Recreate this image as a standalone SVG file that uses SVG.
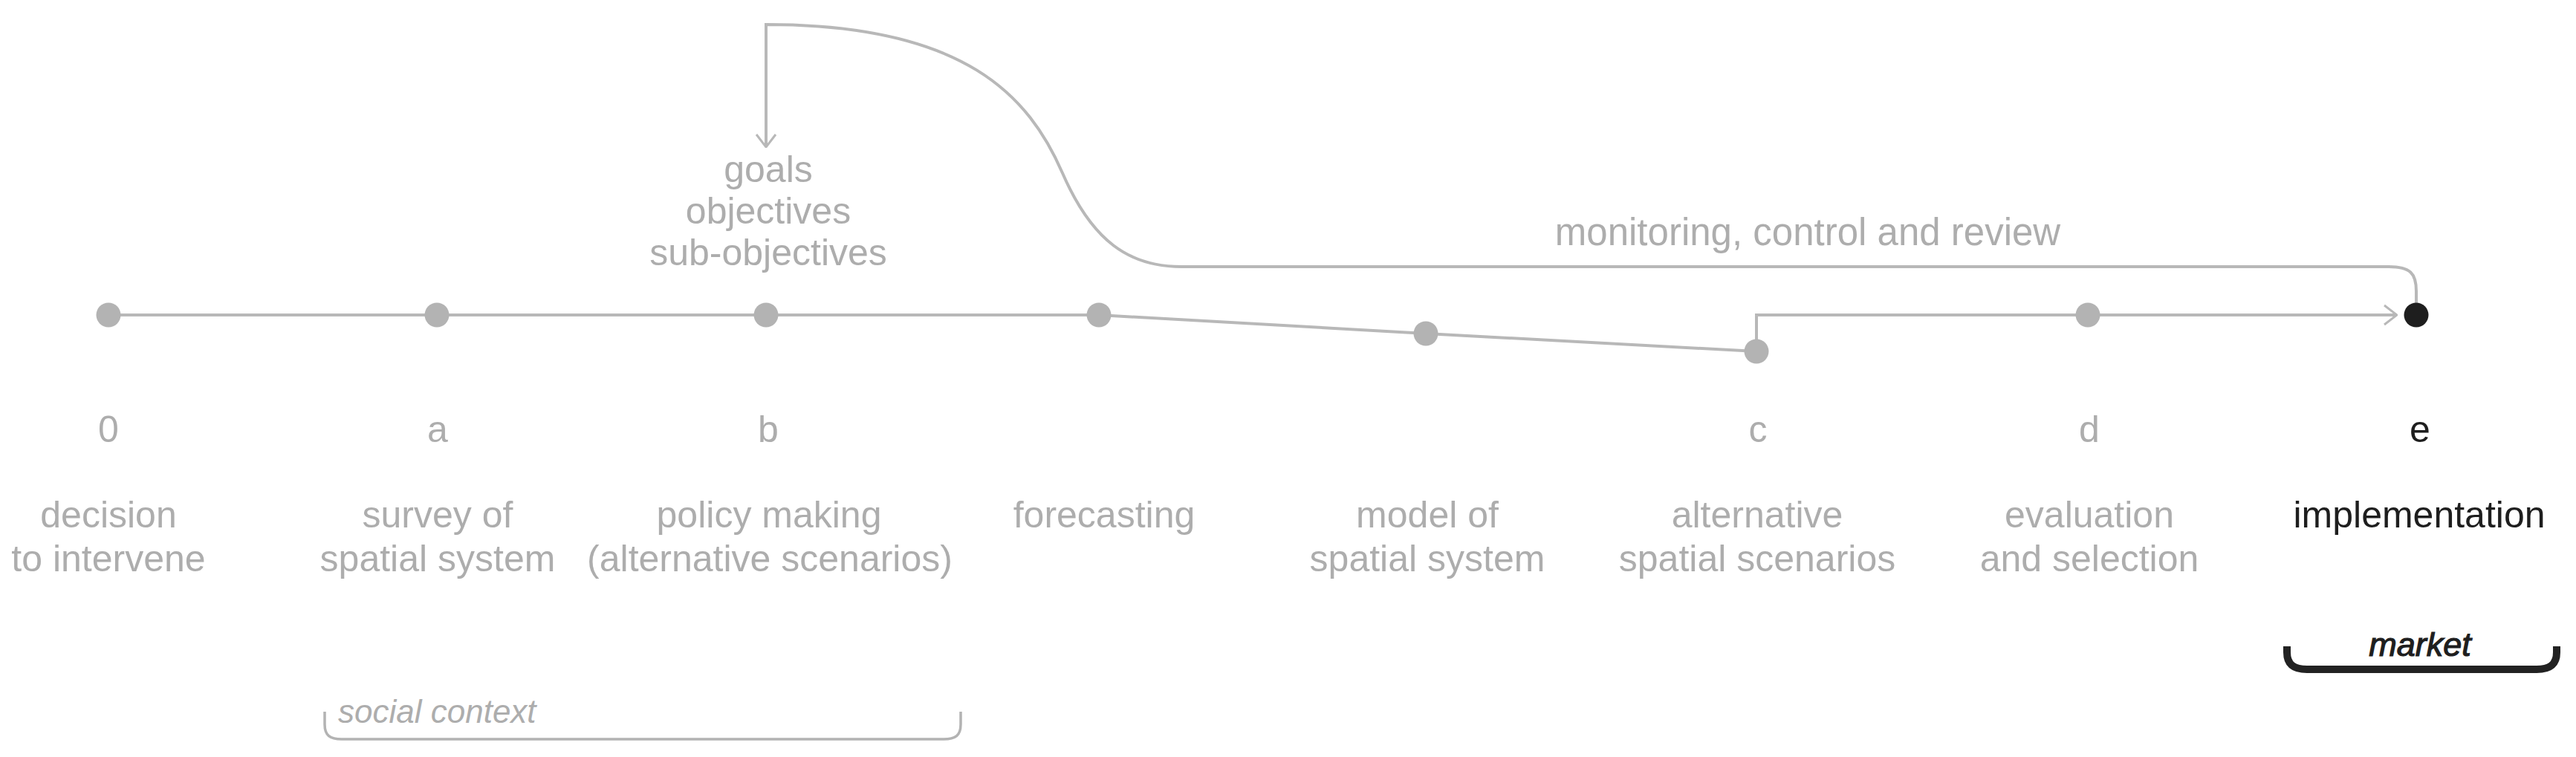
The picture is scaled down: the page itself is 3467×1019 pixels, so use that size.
<svg xmlns="http://www.w3.org/2000/svg" width="3467" height="1019" viewBox="0 0 3467 1019">
<style>
.t{font-family:"Liberation Sans",Arial,sans-serif;font-size:50px;fill:#adadad;text-anchor:middle}
.dk{fill:#1e1e1e}
.it{font-style:italic}
.ln{fill:none;stroke:#b8b8b8;stroke-width:4}
.dot{fill:#b3b3b3}
</style>
<defs>
<marker id="arr" viewBox="0 0 20 30" refX="19" refY="15" markerWidth="20" markerHeight="30" markerUnits="userSpaceOnUse" orient="auto">
<path d="M2 2 L19 15 L2 28" fill="none" stroke="#b8b8b8" stroke-width="3"/>
</marker>
</defs>
<rect width="3467" height="1019" fill="#fff"/>
<g id="connectors">
<path class="ln" d="M146 424 H1479 L1919 449 L2364 473"/>
<path class="ln" d="M2364 473 V424 H3226" marker-end="url(#arr)"/>
<path class="ln" d="M3252 408 V392 C3252 368 3244 359 3215 359 H1590 C1520 359 1470 325 1430 233 C1385 130 1300 33 1031 33 V198" marker-end="url(#arr)"/>
</g>
<g id="node-0"><circle class="dot" cx="146" cy="424" r="16.5"/><text class="t" x="146" y="595">0</text><text class="t" x="146" y="710">decision</text><text class="t" x="146" y="769">to intervene</text></g>
<g id="node-a"><circle class="dot" cx="588" cy="424" r="16.5"/><text class="t" x="589" y="595">a</text><text class="t" x="589" y="710">survey of</text><text class="t" x="589" y="769">spatial system</text></g>
<g id="node-b"><circle class="dot" cx="1031" cy="424" r="16.5"/><text class="t" x="1034" y="595">b</text><text class="t" x="1035" y="710">policy making</text><text class="t" x="1036" y="769">(alternative scenarios)</text></g>
<g id="node-goals"><text class="t" x="1034" y="245">goals</text><text class="t" x="1034" y="301">objectives</text><text class="t" x="1034" y="357">sub-objectives</text></g>
<g id="node-forecasting"><circle class="dot" cx="1479" cy="424" r="16.5"/><text class="t" x="1486" y="710">forecasting</text></g>
<g id="node-model"><circle class="dot" cx="1919" cy="449" r="16.5"/><text class="t" x="1921" y="710">model of</text><text class="t" x="1921" y="769">spatial system</text></g>
<g id="node-c"><circle class="dot" cx="2364" cy="473" r="16.5"/><text class="t" x="2366" y="595">c</text><text class="t" x="2365" y="710">alternative</text><text class="t" x="2365" y="769">spatial scenarios</text></g>
<g id="node-d"><circle class="dot" cx="2810" cy="424" r="16.5"/><text class="t" x="2812" y="595">d</text><text class="t" x="2812" y="710">evaluation</text><text class="t" x="2812" y="769">and selection</text></g>
<g id="node-e"><circle cx="3252" cy="424" r="16.5" fill="#1e1e1e"/><text class="t dk" x="3257" y="595">e</text><text class="t dk" x="3256" y="710">implementation</text></g>
<g id="label-monitoring"><text class="t" x="2433" y="330" style="font-size:51px">monitoring, control and review</text></g>
<g id="social-context">
<path d="M437 958 V975 C437 990 444 995 460 995 H1270 C1286 995 1293 990 1293 975 V958" fill="none" stroke="#b3b3b3" stroke-width="3.5"/>
<text class="t it" x="455" y="973" style="font-size:44px;text-anchor:start">social context</text>
</g>
<g id="market">
<path d="M3078 870 V878 C3078 895 3088 901 3105 901 H3414 C3431 901 3441 895 3441 878 V870" fill="none" stroke="#222" stroke-width="10"/>
<text class="t it dk" x="3257" y="883" style="font-size:45px;stroke:#1e1e1e;stroke-width:1.2">market</text>
</g>
</svg>
